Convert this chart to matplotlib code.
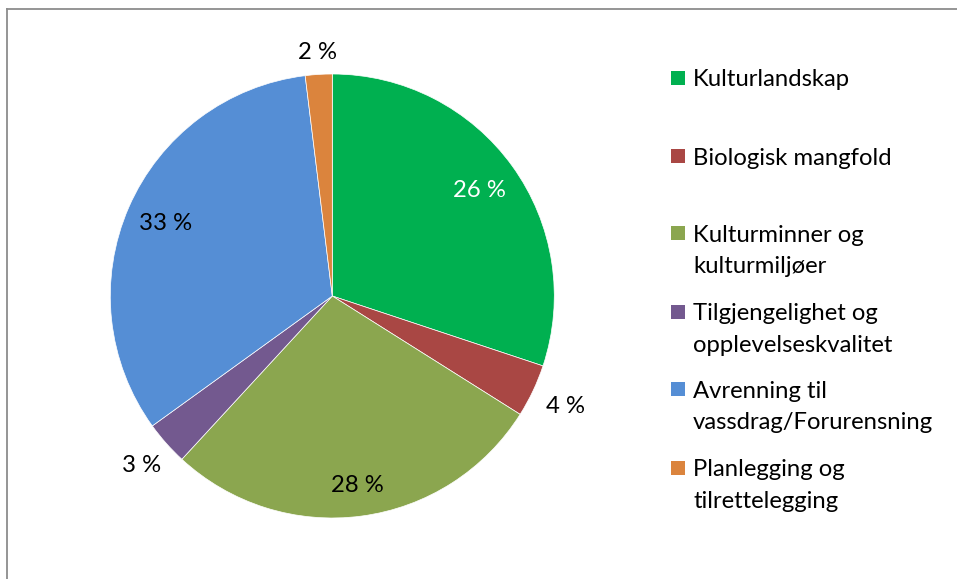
import matplotlib
matplotlib.use("Agg")
import matplotlib.pyplot as plt
from matplotlib.patches import Rectangle
from matplotlib.lines import Line2D
import numpy as np

categories = ["Kulturlandskap", "Biologisk mangfold", "Kulturminner og\nkulturmiljøer",
              "Tilgjengelighet og\nopplevelseskvalitet", "Avrenning til\nvassdrag/Forurensning",
              "Planlegging og\ntilrettelegging"]
values = [30.1, 3.85, 27.9, 3.2, 33.0, 1.95]
value_labels = ["26 %", "4 %", "28 %", "3 %", "33 %", "2 %"]
colors = ["#00B050", "#A94744", "#8BA64F", "#73598F", "#558ED5", "#DB843D"]

plt.rcParams['font.family'] = ['Lato', 'DejaVu Sans']
FS = 17.2

W, H = 957, 579
fig = plt.figure(figsize=(W / 100, H / 100), dpi=100)
fig.patch.set_facecolor('white')

def fx(x):
    return x / W

def fy(y):
    return 1 - y / H

# border (left and top)
fig.add_artist(Line2D([fx(7.5), fx(7.5)], [fy(600), fy(8.5)], color='#8c8c8c', lw=1.3,
                      transform=fig.transFigure))
fig.add_artist(Line2D([fx(7.5), fx(980)], [fy(8.5), fy(8.5)], color='#8c8c8c', lw=1.3,
                      transform=fig.transFigure))

cx, cy, r = 332.3, 296.0, 222.0
ax = fig.add_axes([(cx - r) / W, (H - cy - r) / H, 2 * r / W, 2 * r / H])
wedges, _ = ax.pie(values, colors=colors, startangle=90, counterclock=False, radius=1,
                   wedgeprops=dict(linewidth=0.5, edgecolor='white'))
ax.set_xlim(-1, 1)
ax.set_ylim(-1, 1)
ax.axis('off')

label_r = [0.815, 1.16, 0.86, 1.15, 0.82, 1.10]
label_c = ['white', 'black', 'black', 'black', 'black', 'black']
for w, lab, lr, lc in zip(wedges, value_labels, label_r, label_c):
    ang = np.deg2rad((w.theta1 + w.theta2) / 2)
    ax.text(lr * np.cos(ang), lr * np.sin(ang), lab, ha='center', va='center',
            color=lc, fontsize=FS, clip_on=False)

# legend
sq = 14
leg_x = 671
txt_x = 693
first_y = [78, 156, 233, 312, 389, 468]
pitch = 31.7
for cat, col, y0 in zip(categories, colors, first_y):
    fig.add_artist(Rectangle((fx(leg_x), fy(y0 + sq / 2)), sq / W, sq / H, facecolor=col,
                             edgecolor='none', transform=fig.transFigure))
    for i, line in enumerate(cat.split('\n')):
        fig.text(fx(txt_x), fy(y0 + i * pitch), line, ha='left', va='center_baseline',
                 fontsize=FS, color='black')

fig.savefig('out.png', dpi=100, facecolor='white')
